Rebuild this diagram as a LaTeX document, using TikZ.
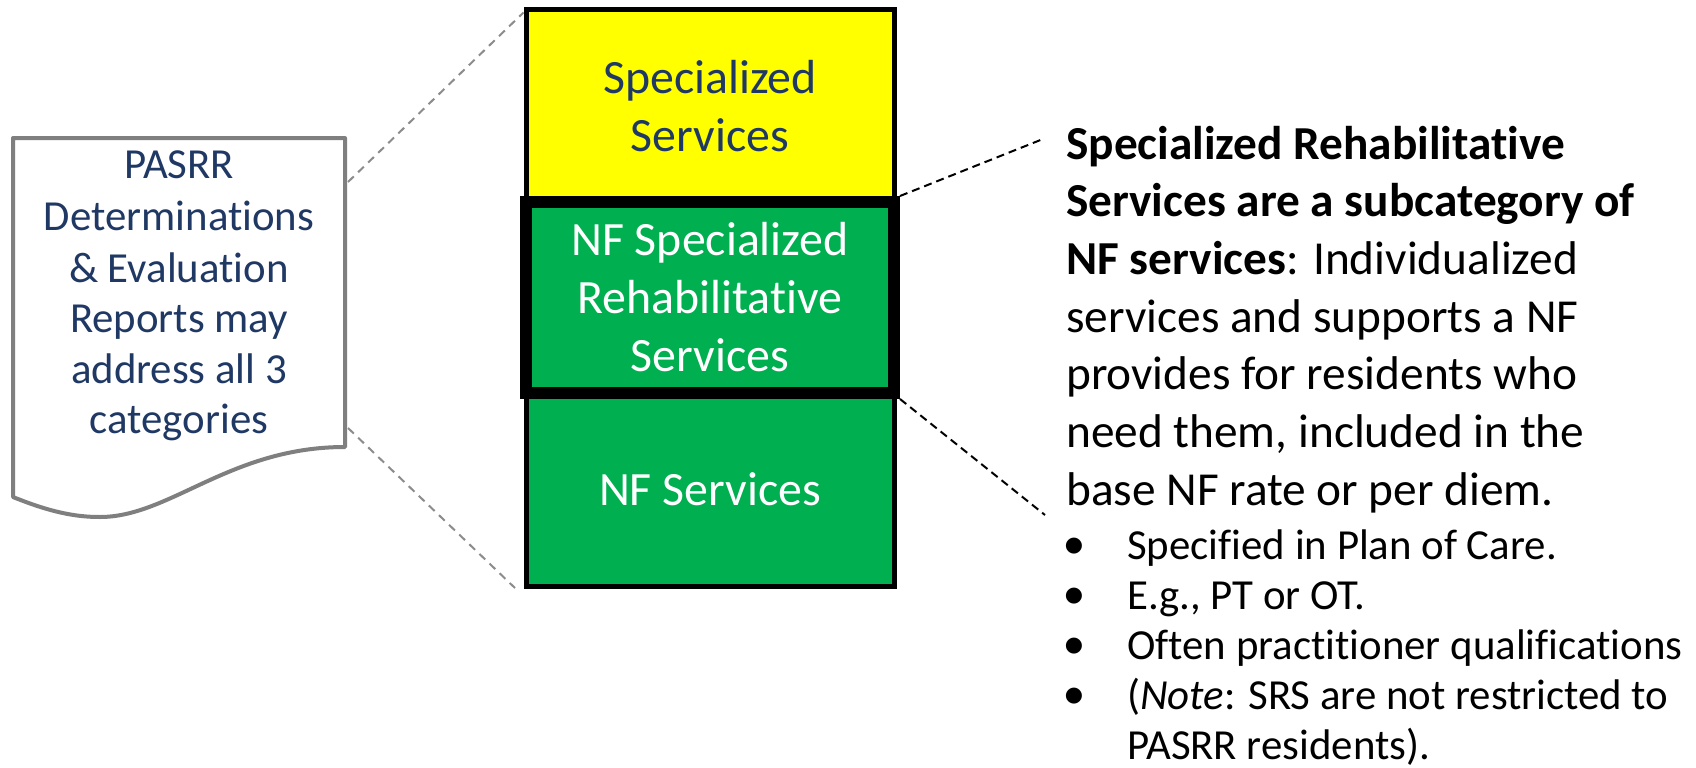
\documentclass[tikz,border=0pt]{standalone}
\usepackage{fontspec}
\setmainfont{Carlito}[Ligatures=NoCommon]
\newfontfamily\bulletfont{DejaVu Sans}
\definecolor{navy}{HTML}{1F3864}
\definecolor{grn}{HTML}{00B050}
\definecolor{yel}{HTML}{FFFF00}
\definecolor{docgray}{HTML}{7F7F7F}
\definecolor{dashgray}{HTML}{8C8C8C}
\tikzset{
  stackbox/.style={rectangle, draw=black, line width=5bp, minimum width=368bp, inner sep=0pt},
  bigtxt/.style={inner sep=0pt, font=\fontsize{48}{48}\selectfont, anchor=base},
  doctxt/.style={inner sep=0pt, font=\fontsize{43}{43}\selectfont, text=navy, anchor=base},
  rtxt/.style={inner sep=0pt, font=\fontsize{47.5}{47.5}\selectfont, anchor=base west},
  btxt/.style={inner sep=0pt, font=\fontsize{43}{43}\selectfont, anchor=base west},
  bul/.style={inner sep=0pt, font=\bulletfont\fontsize{21}{21}\selectfont, anchor=base},
  graydash/.style={draw=dashgray, line width=2bp, dash pattern=on 8bp off 6bp},
  blackdash/.style={draw=black, line width=2bp, dash pattern=on 8bp off 5bp},
  docline/.style={draw=docgray, line width=4bp, fill=white, line join=round}
}
\begin{document}
\begin{tikzpicture}[x=1bp,y=-1bp]
\useasboundingbox (0,0) rectangle (1696,768);
\fill[white] (0,0) rectangle (1696,768);

% document shape
\draw[docline] (13,138) -- (345,138) -- (345,447)
  .. controls (230,447) and (170,517) .. (100,517)
  .. controls (75,517) and (50,512) .. (13,497) -- cycle;
\coordinate (docU) at (348,182);
\coordinate (docL) at (348,428);
\coordinate (stackBL) at (515,588);

\node[doctxt] (d1) at (179,178) {PASRR};
\node[doctxt] (d2) at (179,230) {Determinations};
\node[doctxt] (d3) at (179,282) {\& Evaluation};
\node[doctxt] (d4) at (179,332) {Reports may};
\node[doctxt] (d5) at (179,383) {address all 3};
\node[doctxt] (d6) at (179,433) {categories};

% stack
\node[stackbox, fill=yel, minimum height=192bp] (ss) at (710,106) {};
\node[stackbox, fill=grn, minimum height=193bp] (nf) at (710,489.5) {};
\node[stackbox, fill=grn, line width=12bp, minimum height=191bp] (srs) at (710,297.5) {};

\node[bigtxt, text=navy] (s1) at (710,93.5) {Specialized};
\node[bigtxt, text=navy] (s2) at (710,151.5) {Services};
\node[bigtxt, text=white] (m1) at (710,255.5) {NF Specialized};
\node[bigtxt, text=white] (m2) at (710,313) {Rehabilitative};
\node[bigtxt, text=white] (m3) at (710,371.5) {Services};
\node[bigtxt, text=white] (b1) at (710,505) {NF Services};

% connectors
\draw[graydash] (docU) -- ([yshift=-5bp]ss.north west);
\draw[graydash] (docL) -- (stackBL);
\coordinate (rU) at (1043,139);
\coordinate (rL) at (1045,515);
\draw[blackdash] (srs.north east) -- (rU);
\draw[blackdash] (srs.south east) -- (rL);

% right text
\node[rtxt] (r1) at (1066,159) {\textbf{Specialized Rehabilitative}};
\node[rtxt] (r2) at (1066,216.7) {\textbf{Services are a subcategory of}};
\node[rtxt] (r3) at (1066,274.3) {\textbf{NF services}: Individualized};
\node[rtxt] (r4) at (1066,332) {services and supports a NF};
\node[rtxt] (r5) at (1066,389.6) {provides for residents who};
\node[rtxt] (r6) at (1066,447.3) {need them, included in the};
\node[rtxt] (r7) at (1066,505) {base NF rate or per diem.};

\node[bul] (u1) at (1074,551) {●};
\node[bul] (u2) at (1074,601) {●};
\node[bul] (u3) at (1074,651) {●};
\node[bul] (u4) at (1074,701) {●};
\node[btxt] (t1) at (1127,559) {Specified in Plan of Care.};
\node[btxt] (t2) at (1127,609) {E.g., PT or OT.};
\node[btxt] (t3) at (1127,659) {Often practitioner qualifications};
\node[btxt] (t4) at (1127,709) {(\textit{Note}: SRS are not restricted to};
\node[btxt] (t5) at (1127,759) {PASRR residents).};
\end{tikzpicture}
\end{document}
